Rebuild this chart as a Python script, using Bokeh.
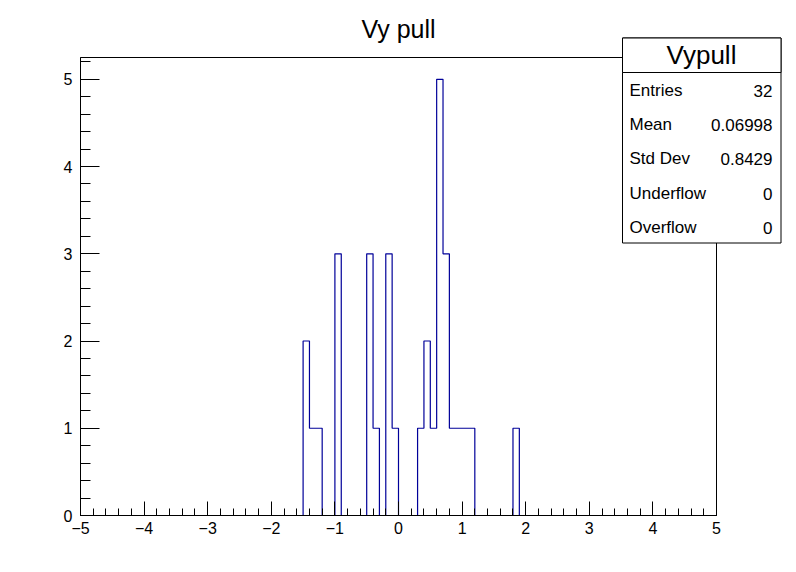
import numpy as np
from bokeh.plotting import figure
from bokeh.models import (Label, BoxAnnotation, SingleIntervalTicker,
                          CustomJSTickFormatter, Range1d)
from bokeh.embed import file_html
from bokeh.resources import INLINE

# ---- data ----
title_text = "Vy pull"
hist_name = "Vypull"
x_min, x_max, n_bins = -5.0, 5.0, 100
bin_left = [-1.5, -1.4, -1.3, -1.0, -0.5, -0.4, -0.2, -0.1,
            0.3, 0.4, 0.5, 0.6, 0.7, 0.8, 0.9, 1.0, 1.1, 1.8]
bin_count = [2, 1, 1, 3, 3, 1, 3, 1,
             1, 2, 1, 5, 3, 1, 1, 1, 1, 1]
stat_names = ["Entries", "Mean", "Std Dev", "Underflow", "Overflow"]
stat_values = ["32", "0.06998", "0.8429", "0", "0"]
y_min, y_max = 0.0, 5.25

# ---- histogram arrays ----
edges = np.linspace(x_min, x_max, n_bins + 1)
counts = np.zeros(n_bins)
for xl, c in zip(bin_left, bin_count):
    idx = int(round((xl - x_min) / (x_max - x_min) * n_bins))
    counts[idx] = c
step_y = np.append(counts, counts[-1])

# ---- layout (pixel geometry of the ROOT pad) ----
W, H = 796, 572
FL, FT, FW, FH = 80, 57, 636, 458
FONT = "Liberation Sans"

def dx(px):
    return x_min + (px - FL) / FW * (x_max - x_min)

def dy(py):
    return y_min + (FT + FH - py) / FH * (y_max - y_min)

p = figure(frame_width=W, frame_height=H, output_backend="svg",
           toolbar_location=None, title=None,
           x_range=Range1d(dx(0), dx(W)), y_range=Range1d(dy(H), dy(0)),
           min_border=0)
p.background_fill_color = "white"
p.border_fill_color = "white"
p.outline_line_color = None
p.xgrid.visible = False
p.ygrid.visible = False

fmt = CustomJSTickFormatter(code="return tick < 0 ? '\\u2212' + (-tick) : '' + tick;")

xa = p.xaxis[0]
xa.fixed_location = y_min
xa.bounds = (x_min, x_max)
xa.ticker = SingleIntervalTicker(interval=1, num_minor_ticks=5)
xa.formatter = fmt
xa.major_tick_in = 14
xa.major_tick_out = 0
xa.minor_tick_in = 7
xa.minor_tick_out = 0
xa.major_label_text_font = FONT
xa.major_label_text_font_size = "16px"
xa.major_label_text_color = "black"
xa.major_label_standoff = 6
xa.axis_line_color = "black"
xa.major_tick_line_color = "black"
xa.minor_tick_line_color = "black"

ya = p.yaxis[0]
ya.fixed_location = x_min
ya.bounds = (y_min, y_max)
ya.ticker = SingleIntervalTicker(interval=1, num_minor_ticks=5)
ya.formatter = fmt
ya.major_tick_in = 19
ya.major_tick_out = 0
ya.minor_tick_in = 10
ya.minor_tick_out = 0
ya.major_label_text_font = FONT
ya.major_label_text_font_size = "16px"
ya.major_label_text_color = "black"
ya.major_label_standoff = 8
ya.axis_line_color = "black"
ya.major_tick_line_color = "black"
ya.minor_tick_line_color = "black"

# histogram
p.step(x=edges, y=step_y, mode="after", line_color="#000099", line_width=1.2)

# frame box
p.add_layout(BoxAnnotation(left=x_min, right=x_max, bottom=y_min, top=y_max,
                           fill_alpha=0, line_color="black", line_alpha=1.0, line_width=1))

# title
p.add_layout(Label(x=(x_min + x_max) / 2, y=dy(28), text=title_text,
                   text_font=FONT, text_font_size="25px", text_align="center",
                   text_baseline="alphabetic", text_color="black"))

# stats box
p.add_layout(BoxAnnotation(left=dx(622), right=dx(780.5), top=dy(37.5), bottom=dy(242.5),
                           fill_color="white", fill_alpha=1.0,
                           line_color="black", line_alpha=1.0, line_width=1, level="overlay"))
p.add_layout(BoxAnnotation(left=dx(622), right=dx(780.5), top=dy(37.5), bottom=dy(72),
                           fill_color="white", fill_alpha=1.0,
                           line_color="black", line_alpha=1.0, line_width=1, level="overlay"))
p.add_layout(Label(x=dx(701), y=dy(54), text=hist_name, text_font=FONT,
                   text_font_size="26px", text_align="center",
                   text_baseline="middle", text_color="black", level="overlay"))
row_y = [90, 124, 158, 193, 227]
for name, val, ry in zip(stat_names, stat_values, row_y):
    p.add_layout(Label(x=dx(629), y=dy(ry), text=name, text_font=FONT,
                       text_font_size="17px", text_align="left",
                       text_baseline="middle", text_color="black", level="overlay"))
    p.add_layout(Label(x=dx(772), y=dy(ry), text=val, text_font=FONT,
                       text_font_size="17px", text_align="right",
                       text_baseline="middle", text_color="black", level="overlay"))

open("out.html", "w").write(file_html(p, INLINE))
